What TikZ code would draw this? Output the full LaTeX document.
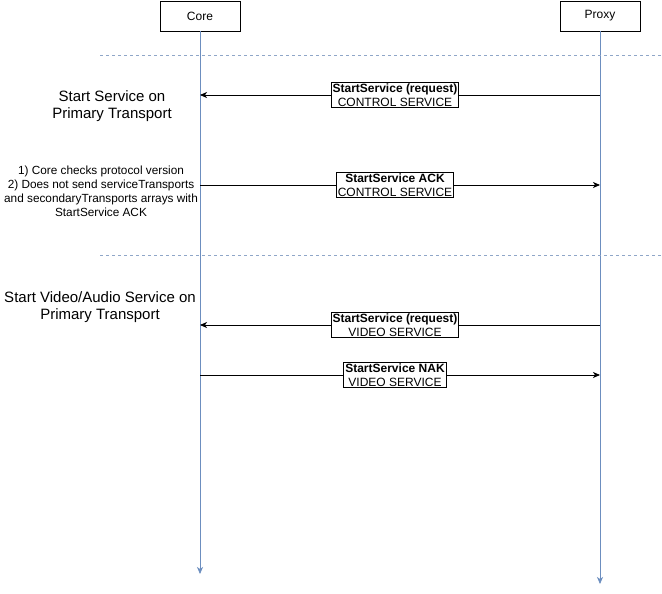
\documentclass[tikz,border=0pt]{standalone}
\usepackage{fontspec}
\setmainfont{Liberation Sans}
\usetikzlibrary{arrows.meta,positioning}
\definecolor{lifeblue}{HTML}{6C8EBF}
\definecolor{sepblue}{HTML}{8FA6C8}

\tikzset{
  actor/.style={draw,line width=0.8pt,minimum width=80pt,minimum height=30pt,inner sep=0pt,font=\fontsize{12}{14}\selectfont},
  lifeline/.style={draw=lifeblue,line width=0.8pt,-{Stealth[length=7pt,width=6pt,inset=2pt]}},
  separator/.style={draw=sepblue,line width=0.7pt,dash pattern=on 3pt off 3pt},
  msgarrow/.style={line width=0.8pt,-{Stealth[length=7pt,width=6pt,inset=2pt]}},
  msglabel/.style={draw,line width=0.8pt,fill=white,inner sep=1.5pt,align=center,font=\fontsize{12}{13.5}\selectfont},
  note/.style={align=center,font=\fontsize{15}{17.5}\selectfont},
  smallnote/.style={align=center,font=\fontsize{11.8}{14}\selectfont}
}

\begin{document}
\begin{tikzpicture}[x=1pt,y=-1pt]
  \useasboundingbox (0,0) rectangle (662,594);

  % lifelines
  \node[actor] (core) at (200,16) {Core};
  \node[actor] (proxy) at (600,16) {Proxy};
  \coordinate (coreend) at (200,574);
  \coordinate (proxyend) at (600,584);
  \draw[lifeline] (core) -- (coreend);
  \draw[lifeline] (proxy) -- (proxyend);

  % separators
  \coordinate (sepa) at (100,55);
  \coordinate (sepb) at (100,255);
  \draw[separator] (sepa) -- (sepa -| 662,0);
  \draw[separator] (sepb) -- (sepb -| 662,0);

  % control service
  \node[note] (startctl) at (112,106) {Start Service on\\Primary Transport};
  \draw[msgarrow] (proxy |- 0,95) -- node[msglabel,pos=0.5125] (reqctl)
    {\textbf{StartService (request)}\\CONTROL SERVICE} (core |- 0,95);

  \node[smallnote] (checks) at (101,191) {1) Core checks protocol version\\2) Does not send serviceTransports\\and secondaryTransports arrays with\\StartService ACK};
  \draw[msgarrow] (core |- 0,185) -- node[msglabel,pos=0.4875] (ackctl)
    {\textbf{StartService ACK}\\CONTROL SERVICE} (proxy |- 0,185);

  % video service
  \node[note] (startvid) at (100,307) {Start Video/Audio Service on\\Primary Transport};
  \draw[msgarrow] (proxy |- 0,325) -- node[msglabel,pos=0.5125] (reqvid)
    {\textbf{StartService (request)}\\VIDEO SERVICE} (core |- 0,325);
  \draw[msgarrow] (core |- 0,375) -- node[msglabel,pos=0.4875] (nakvid)
    {\textbf{StartService NAK}\\VIDEO SERVICE} (proxy |- 0,375);
\end{tikzpicture}
\end{document}
